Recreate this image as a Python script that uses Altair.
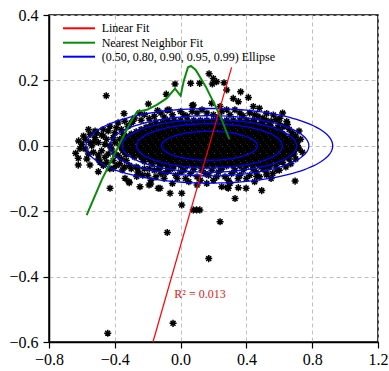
import altair as alt
import pandas as pd
import numpy as np

# ---------------- data ----------------
# isolated / sparse asterisks (x, y)
sparse_pts = [
    (-0.452, 0.153), (-0.344, 0.099), (-0.196, 0.128), (-0.087, 0.158), (-0.034, 0.189),
    (0.061, 0.191), (0.116, 0.191), (0.173, 0.220), (0.193, 0.189), (0.071, 0.123),
    (-0.081, 0.109), (0.199, 0.206), (0.219, 0.196), (0.264, 0.193), (0.280, 0.171),
    (0.365, 0.165), (0.320, 0.145), (0.351, 0.135), (0.412, 0.148), (0.442, 0.120),
    (0.479, 0.115), (0.523, 0.099), (0.564, 0.094), (0.604, 0.084), (0.189, 0.130),
    (0.240, 0.120), (0.077, 0.125),
    (-0.612, -0.008), (-0.622, -0.038), (-0.622, -0.059), (-0.551, -0.059), (-0.520, 0.013),
    (-0.500, -0.028), (-0.480, 0.033), (-0.429, -0.130), (-0.500, -0.079), (-0.409, -0.069),
    (-0.338, -0.099), (-0.267, -0.094), (-0.247, -0.125), (-0.136, -0.130), (-0.064, -0.145),
    (0.007, -0.145), (0.007, -0.181), (0.077, -0.196), (0.097, -0.196), (0.117, -0.196),
    (0.240, -0.232), (0.159, -0.115), (0.250, -0.125), (-0.638, -0.023), (-0.314, -0.110),
    (-0.192, -0.120), (-0.253, -0.084), (-0.354, -0.074),
    (0.696, -0.108), (0.493, -0.137), (0.398, -0.130), (0.351, -0.128), (0.331, -0.161),
    (0.290, -0.130), (0.584, -0.074), (0.523, -0.089), (0.462, -0.094), (-0.125, -0.130),
    (-0.081, -0.265), (0.171, -0.345), (-0.046, -0.543), (-0.443, -0.573), (0.284, -0.127),
    (-0.182, -0.117), (-0.312, -0.113), (0.620, 0.100), (0.645, 0.074), (0.685, -0.018),
]

# moderately dense halo round the core (x, y)
halo_pts = [
    (-0.28, 0.085), (-0.22, 0.095), (-0.16, 0.090), (-0.12, 0.100), (-0.05, 0.095),
    (0.00, 0.105), (0.04, 0.090), (0.10, 0.100), (0.13, 0.110), (0.20, 0.095),
    (0.25, 0.105), (0.30, 0.095), (0.33, 0.110), (0.38, 0.092), (0.42, 0.100),
    (0.47, 0.090), (0.50, 0.085), (0.55, 0.075), (0.60, 0.068), (0.63, 0.060),
    (0.66, 0.050), (0.68, 0.040), (-0.25, 0.100), (-0.14, 0.108), (-0.30, 0.070),
    (-0.58, 0.020), (-0.55, 0.035), (-0.52, 0.045), (-0.50, 0.010), (-0.47, 0.050),
    (-0.45, 0.020), (-0.43, 0.060), (-0.42, -0.010), (-0.40, 0.040), (-0.38, 0.070),
    (-0.38, -0.030), (-0.36, 0.050), (-0.34, 0.075), (-0.58, -0.010), (-0.56, -0.025),
    (-0.54, 0.000), (-0.50, -0.040), (-0.48, -0.015), (-0.45, -0.050), (-0.44, -0.025),
    (-0.41, -0.045), (-0.39, -0.060), (-0.36, -0.040), (-0.34, -0.065), (-0.52, 0.025),
    (-0.47, 0.030), (-0.60, 0.005), (-0.40, 0.010), (-0.37, 0.020),
    (-0.30, -0.070), (-0.26, -0.080), (-0.22, -0.070), (-0.20, -0.090), (-0.16, -0.075),
    (-0.12, -0.085), (-0.10, -0.100), (-0.07, -0.075), (-0.03, -0.090), (0.00, -0.080),
    (0.03, -0.100), (0.06, -0.085), (0.10, -0.095), (0.13, -0.075), (0.17, -0.090),
    (0.20, -0.105), (0.23, -0.080), (0.27, -0.095), (0.31, -0.085), (0.35, -0.100),
    (0.38, -0.075), (0.42, -0.090), (0.46, -0.080), (0.50, -0.070), (0.54, -0.065),
    (0.58, -0.060), (0.62, -0.050), (0.66, -0.040), (0.69, -0.025), (0.72, -0.010),
    (0.71, 0.015), (0.70, 0.030), (0.45, -0.110), (0.30, -0.115), (-0.05, -0.115),
    (-0.18, -0.105), (0.10, -0.120), (0.56, -0.085), (0.60, -0.075),
    # extra left
    (-0.59, 0.030), (-0.57, -0.040), (-0.55, 0.010), (-0.53, -0.020), (-0.51, 0.040),
    (-0.49, -0.050), (-0.46, 0.005), (-0.46, -0.035), (-0.44, 0.045), (-0.43, 0.000),
    (-0.41, 0.025), (-0.40, -0.025), (-0.39, 0.055), (-0.37, -0.055), (-0.35, 0.035),
    (-0.35, -0.015), (-0.33, -0.045), (-0.32, 0.060), (-0.31, -0.060), (-0.29, 0.075),
    (-0.27, -0.065), (-0.62, 0.015), (-0.56, 0.050), (-0.43, -0.070), (-0.47, -0.060),
    # extra bottom
    (-0.26, -0.068), (-0.23, -0.090), (-0.19, -0.070), (-0.15, -0.095), (-0.13, -0.072),
    (-0.09, -0.082), (-0.05, -0.070), (-0.02, -0.100), (0.02, -0.075), (0.05, -0.110),
    (0.08, -0.072), (0.12, -0.105), (0.15, -0.085), (0.19, -0.075), (0.22, -0.095),
    (0.25, -0.072), (0.29, -0.105), (0.33, -0.075), (0.36, -0.090), (0.40, -0.100),
    (0.44, -0.072), (0.48, -0.095), (0.52, -0.080), (0.55, -0.100), (0.64, -0.065),
    (0.67, -0.055),
    # extra top / right
    (-0.24, 0.078), (-0.19, 0.083), (-0.10, 0.088), (-0.07, 0.110), (0.02, 0.095),
    (0.07, 0.105), (0.16, 0.100), (0.23, 0.088), (0.28, 0.110), (0.36, 0.100),
    (0.45, 0.095), (0.52, 0.078), (0.58, 0.080), (0.65, 0.065),
    (0.71, 0.000), (0.73, 0.020), (0.70, -0.040), (0.72, 0.045), (0.74, -0.020),
]

# solid black core: one y level per row with the asterisks along it
core_y = [0.078, 0.064, 0.050, 0.036, 0.022, 0.008, -0.006, -0.020, -0.034, -0.048, -0.062,
          0.071, 0.057, 0.043, 0.029, 0.015, 0.001, -0.013, -0.027, -0.041, -0.055]
core_x = [
    [-0.08, -0.04, 0.00, 0.04, 0.08, 0.12, 0.16, 0.20, 0.24, 0.28, 0.32, 0.36, 0.40, 0.44],
    [-0.18, -0.14, -0.10, -0.06, -0.02, 0.02, 0.06, 0.10, 0.14, 0.18, 0.22, 0.26, 0.30,
     0.34, 0.38, 0.42, 0.46, 0.50, 0.54],
    [-0.24, -0.20, -0.16, -0.12, -0.08, -0.04, 0.00, 0.04, 0.08, 0.12, 0.16, 0.20, 0.24,
     0.28, 0.32, 0.36, 0.40, 0.44, 0.48, 0.52, 0.56, 0.60],
    [-0.30, -0.26, -0.22, -0.18, -0.14, -0.10, -0.06, -0.02, 0.02, 0.06, 0.10, 0.14, 0.18,
     0.22, 0.26, 0.30, 0.34, 0.38, 0.42, 0.46, 0.50, 0.54, 0.58, 0.62],
    [-0.32, -0.28, -0.24, -0.20, -0.16, -0.12, -0.08, -0.04, 0.00, 0.04, 0.08, 0.12, 0.16,
     0.20, 0.24, 0.28, 0.32, 0.36, 0.40, 0.44, 0.48, 0.52, 0.56, 0.60, 0.64, 0.68],
    [-0.34, -0.30, -0.26, -0.22, -0.18, -0.14, -0.10, -0.06, -0.02, 0.02, 0.06, 0.10, 0.14,
     0.18, 0.22, 0.26, 0.30, 0.34, 0.38, 0.42, 0.46, 0.50, 0.54, 0.58, 0.62, 0.66, 0.70],
    [-0.36, -0.32, -0.28, -0.24, -0.20, -0.16, -0.12, -0.08, -0.04, 0.00, 0.04, 0.08, 0.12,
     0.16, 0.20, 0.24, 0.28, 0.32, 0.36, 0.40, 0.44, 0.48, 0.52, 0.56, 0.60, 0.64, 0.68],
    [-0.34, -0.30, -0.26, -0.22, -0.18, -0.14, -0.10, -0.06, -0.02, 0.02, 0.06, 0.10, 0.14,
     0.18, 0.22, 0.26, 0.30, 0.34, 0.38, 0.42, 0.46, 0.50, 0.54, 0.58, 0.62, 0.66],
    [-0.28, -0.24, -0.20, -0.16, -0.12, -0.08, -0.04, 0.00, 0.04, 0.08, 0.12, 0.16, 0.20,
     0.24, 0.28, 0.32, 0.36, 0.40, 0.44, 0.48, 0.52, 0.56, 0.60, 0.64],
    [-0.22, -0.18, -0.14, -0.10, -0.06, -0.02, 0.02, 0.06, 0.10, 0.14, 0.18, 0.22, 0.26,
     0.30, 0.34, 0.38, 0.42, 0.46, 0.50, 0.54, 0.58, 0.60],
    [-0.12, -0.08, -0.04, 0.00, 0.04, 0.08, 0.12, 0.16, 0.20, 0.24, 0.28, 0.32, 0.36,
     0.40, 0.44, 0.48, 0.52],
    # in-between rows
    [-0.15, -0.11, -0.07, -0.03, 0.01, 0.05, 0.09, 0.13, 0.17, 0.21, 0.25, 0.29, 0.33,
     0.37, 0.41, 0.45, 0.49],
    [-0.21, -0.17, -0.13, -0.09, -0.05, -0.01, 0.03, 0.07, 0.11, 0.15, 0.19, 0.23, 0.27,
     0.31, 0.35, 0.39, 0.43, 0.47, 0.51, 0.55, 0.59],
    [-0.27, -0.23, -0.19, -0.15, -0.11, -0.07, -0.03, 0.01, 0.05, 0.09, 0.13, 0.17, 0.21,
     0.25, 0.29, 0.33, 0.37, 0.41, 0.45, 0.49, 0.53, 0.57, 0.61],
    [-0.33, -0.29, -0.25, -0.21, -0.17, -0.13, -0.09, -0.05, -0.01, 0.03, 0.07, 0.11, 0.15,
     0.19, 0.23, 0.27, 0.31, 0.35, 0.39, 0.43, 0.47, 0.51, 0.55, 0.59, 0.63, 0.67],
    [-0.35, -0.31, -0.27, -0.23, -0.19, -0.15, -0.11, -0.07, -0.03, 0.01, 0.05, 0.09, 0.13,
     0.17, 0.21, 0.25, 0.29, 0.33, 0.37, 0.41, 0.45, 0.49, 0.53, 0.57, 0.61, 0.65, 0.69],
    [-0.37, -0.33, -0.29, -0.25, -0.21, -0.17, -0.13, -0.09, -0.05, -0.01, 0.03, 0.07, 0.11,
     0.15, 0.19, 0.23, 0.27, 0.31, 0.35, 0.39, 0.43, 0.47, 0.51, 0.55, 0.59, 0.63, 0.67, 0.71],
    [-0.35, -0.31, -0.27, -0.23, -0.19, -0.15, -0.11, -0.07, -0.03, 0.01, 0.05, 0.09, 0.13,
     0.17, 0.21, 0.25, 0.29, 0.33, 0.37, 0.41, 0.45, 0.49, 0.53, 0.57, 0.61, 0.65, 0.69],
    [-0.33, -0.29, -0.25, -0.21, -0.17, -0.13, -0.09, -0.05, -0.01, 0.03, 0.07, 0.11, 0.15,
     0.19, 0.23, 0.27, 0.31, 0.35, 0.39, 0.43, 0.47, 0.51, 0.55, 0.59, 0.63, 0.67],
    [-0.23, -0.19, -0.15, -0.11, -0.07, -0.03, 0.01, 0.05, 0.09, 0.13, 0.17, 0.21, 0.25,
     0.29, 0.33, 0.37, 0.41, 0.45, 0.49, 0.53, 0.57, 0.61],
    [-0.17, -0.13, -0.09, -0.05, -0.01, 0.03, 0.07, 0.11, 0.15, 0.19, 0.23, 0.27, 0.31,
     0.35, 0.39, 0.43, 0.47, 0.51, 0.55],
]

# linear fit (end points as drawn)
fit_x = [-0.168, 0.310]
fit_y = [-0.600, 0.240]
r2_label = "R\u00b2 = 0.013"
r2_pos = (0.118, -0.453)

# nearest neighbour fit
nn_x = [-0.571, -0.480, -0.379, -0.308, -0.265, -0.205, -0.145, -0.085, -0.034, 0.000,
        0.020, 0.045, 0.063, 0.092, 0.153, 0.213, 0.250, 0.296]
nn_y = [-0.212, -0.105, -0.003, 0.069, 0.104, 0.110, 0.125, 0.145, 0.175, 0.153,
        0.200, 0.240, 0.244, 0.232, 0.181, 0.120, 0.080, 0.020]

# confidence ellipses
ell_center = (0.175, 0.0)
ell_sigma = (0.247, 0.0376)
ell_levels = [0.50, 0.80, 0.90, 0.95, 0.99]

legend_labels = ["Linear Fit", "Nearest Neighbor Fit", "(0.50, 0.80, 0.90, 0.95, 0.99) Ellipse"]
legend_colors = ["#ff0000", "#0a8a0a", "#0000ff"]

x_ticks = [-0.8, -0.4, 0.0, 0.4, 0.8, 1.2]
y_ticks = [-0.6, -0.4, -0.2, 0.0, 0.2, 0.4]

SERIF = "'Liberation Serif', 'Times New Roman', serif"

# ---------------- tables ----------------
rows = list(sparse_pts) + list(halo_pts)
for yy, xs_ in zip(core_y, core_x):
    rows += [(xx, yy) for xx in xs_]
pts = pd.DataFrame(rows, columns=["x", "y"])

fit = pd.DataFrame({"x": fit_x, "y": fit_y})
nn = pd.DataFrame({"x": nn_x, "y": nn_y, "i": range(len(nn_x))})

ell_rows = []
t = np.linspace(0, 2 * np.pi, 145)
for p in ell_levels:
    k = np.sqrt(-2 * np.log(1 - p))
    for j, tt in enumerate(t):
        ell_rows.append({"lvl": p, "i": j,
                         "x": ell_center[0] + k * ell_sigma[0] * np.cos(tt),
                         "y": ell_center[1] + k * ell_sigma[1] * np.sin(tt)})
ell = pd.DataFrame(ell_rows)

xs = alt.Scale(domain=[-0.8, 1.2], nice=False, zero=False)
ys = alt.Scale(domain=[-0.6, 0.4], nice=False, zero=False)
X = lambda: alt.X("x:Q", scale=xs, axis=alt.Axis(values=x_ticks, format=".1f", title=None,
                                                 labelFont=SERIF, labelFontSize=16))
Y = lambda: alt.Y("y:Q", scale=ys, axis=alt.Axis(values=y_ticks, format=".1f", title=None,
                                                 labelFont=SERIF, labelFontSize=16))

ASTERISK = "M-1,0L1,0M0,-1L0,1M-0.7,-0.7L0.7,0.7M-0.7,0.7L0.7,-0.7"

points = alt.Chart(pts).mark_point(
    shape=ASTERISK, filled=False, color="black", strokeWidth=1.5, size=50, opacity=1
).encode(x=X(), y=Y())

ellipses = alt.Chart(ell).mark_line(color=legend_colors[2], strokeWidth=1.3).encode(
    x=X(), y=Y(), detail="lvl:N", order="i:Q")

nnline = alt.Chart(nn).mark_line(color=legend_colors[1], strokeWidth=2).encode(
    x=X(), y=Y(), order="i:Q")

fitline = alt.Chart(fit).mark_line(color=legend_colors[0], strokeWidth=1.2).encode(x=X(), y=Y())

r2 = alt.Chart(pd.DataFrame({"x": [r2_pos[0]], "y": [r2_pos[1]], "t": [r2_label]})).mark_text(
    font=SERIF, fontSize=12, color="#e02020", align="center", baseline="middle"
).encode(x=X(), y=Y(), text="t:N")

legend_layers = []
row_y = [13.3, 27.7, 41.7]
for lab, col, ry in zip(legend_labels, legend_colors, row_y):
    legend_layers.append(
        alt.Chart(pd.DataFrame({"t": [lab]})).mark_rule(color=col, strokeWidth=2).encode(
            x=alt.value(14), x2=alt.value(46), y=alt.value(ry)))
    legend_layers.append(
        alt.Chart(pd.DataFrame({"t": [lab]})).mark_text(
            font=SERIF, fontSize=12, color="black", align="left", baseline="middle"
        ).encode(x=alt.value(52.7), y=alt.value(ry), text="t:N"))

chart = alt.layer(points, ellipses, nnline, fitline, r2, *legend_layers).properties(
    width=329, height=327,
    padding={"left": 49, "top": 15, "right": 11, "bottom": 29},
    autosize=alt.AutoSizeParams(type="none"),
    background="white",
).configure(font=SERIF).configure_view(stroke="black", strokeWidth=1.5).configure_axis(
    domainColor="black", domainWidth=1.5, tickColor="black", tickWidth=1.2, tickSize=6,
    labelFont=SERIF, labelFontSize=16, labelColor="black", labelFlush=False,
    gridColor="#c0c0c0", gridDash=[4, 3], gridWidth=1,
).configure_axisX(labelPadding=3).configure_axisY(labelPadding=5)

chart.save("out.html", embed_options={"renderer": "svg", "actions": False})
